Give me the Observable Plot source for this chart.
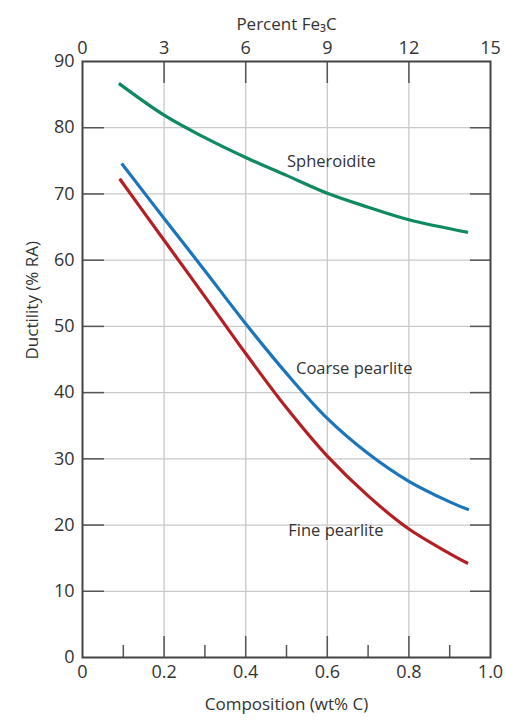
<!DOCTYPE html>
<html><head><meta charset="utf-8">
<script src="https://cdn.jsdelivr.net/npm/d3@7"></script>
<script src="https://cdn.jsdelivr.net/npm/@observablehq/plot@0.6"></script>
<style>html,body{margin:0;padding:0;background:#fff}svg{display:block}</style>
</head><body><div id="chart"></div>
<script>
// Series (composition wt% C -> ductility % RA)
const spheroiditeC  = [0.089, 0.2, 0.3, 0.4, 0.5, 0.6, 0.7, 0.8, 0.945];
const spheroiditeRA = [86.7, 81.9, 78.5, 75.5, 72.8, 70.1, 68.0, 66.1, 64.2];
const coarseC  = [0.096, 0.2, 0.3, 0.4, 0.5, 0.6, 0.7, 0.8, 0.9, 0.947];
const coarseRA = [74.6, 66.3, 58.4, 50.4, 42.9, 36.1, 30.8, 26.6, 23.5, 22.3];
const fineC  = [0.091, 0.2, 0.3, 0.4, 0.5, 0.6, 0.7, 0.8, 0.9, 0.945];
const fineRA = [72.3, 63.0, 54.5, 45.9, 37.7, 30.4, 24.4, 19.4, 15.7, 14.2];

const seriesNames  = ["Spheroidite", "Coarse pearlite", "Fine pearlite"];
const seriesColors = ["#0f8a5f", "#1b75bc", "#b41f24"];

// Axes
const compTicks   = [0, 0.2, 0.4, 0.6, 0.8, 1.0];
const compMinor   = [0.1, 0.3, 0.5, 0.7, 0.9];
const fe3cTicks   = [0, 3, 6, 9, 12, 15];
const raTicks     = [0, 10, 20, 30, 40, 50, 60, 70, 80, 90];
const fe3cPerC    = 15; // % Fe3C per wt% C

// Curve labels (annotation positions in data units)
const labelNames = ["Spheroidite", "Coarse pearlite", "Fine pearlite"];
const labelC     = [0.61, 0.666, 0.621];
const labelRA    = [74.9, 43.6, 19.2];

const xTitle   = "Composition (wt% C)";
const topTitle = "Percent Fe\u2083C";
const yTitle   = "Ductility (% RA)";

const rows = [
  ...spheroiditeC.map((c, i) => ({series: seriesNames[0], c, ra: spheroiditeRA[i]})),
  ...coarseC.map((c, i) => ({series: seriesNames[1], c, ra: coarseRA[i]})),
  ...fineC.map((c, i) => ({series: seriesNames[2], c, ra: fineRA[i]}))
];
const labels = labelNames.map((name, i) => ({name, c: labelC[i], ra: labelRA[i]}));
const innerComp = compTicks.filter(d => d > 0 && d < 1);
const innerRA = raTicks.filter(d => d > 0 && d < 90);
const fe3cPos = fe3cTicks.map(f => f / fe3cPerC);
const innerFe = fe3cPos.filter(d => d > 0 && d < 1);

const font = "'Open Sans', 'Liberation Sans', Arial, sans-serif";
const textCol = "#333";
const tickCol = "#555";
const gridCol = "#c9c9c9";

const chart = Plot.plot({
  width: 506,
  height: 720,
  marginLeft: 82, marginRight: 16, marginTop: 61, marginBottom: 63,
  style: {fontFamily: font, fontSize: "18px", color: textCol, background: "#fff"},
  x: {domain: [0, 1]},
  y: {domain: [0, 90]},
  color: {domain: seriesNames, range: seriesColors},
  marks: [
    Plot.gridX(innerComp, {stroke: gridCol, strokeOpacity: 1, strokeWidth: 1.3}),
    Plot.gridY(innerRA, {stroke: gridCol, strokeOpacity: 1, strokeWidth: 1.3}),
    // inward ticks
    Plot.axisX({anchor: "bottom", ticks: innerComp, tickSize: 21, dy: -21, fill: "none", label: null, stroke: tickCol, strokeWidth: 1.5}),
    Plot.axisX({anchor: "bottom", ticks: compMinor, tickSize: 12, dy: -12, fill: "none", label: null, stroke: tickCol, strokeWidth: 1.5}),
    Plot.axisX({anchor: "top", ticks: innerFe, tickSize: 21, dy: 21, fill: "none", label: null, stroke: tickCol, strokeWidth: 1.5}),
    Plot.axisY({anchor: "left", ticks: innerRA, tickSize: 22, dx: 22, fill: "none", label: null, stroke: tickCol, strokeWidth: 1.5}),
    Plot.axisY({anchor: "right", ticks: innerRA, tickSize: 21, dx: -21, fill: "none", label: null, stroke: tickCol, strokeWidth: 1.5}),
    // tick labels
    Plot.axisX({anchor: "bottom", ticks: compTicks, tickSize: 0, tickPadding: 8, label: null,
      tickFormat: d => d === 0 ? "0" : d.toFixed(1), fill: textCol, fontSize: 18}),
    Plot.axisX({anchor: "top", ticks: fe3cPos, tickSize: 0, tickPadding: 8, label: null,
      tickFormat: d => String(Math.round(d * fe3cPerC)), fill: textCol, fontSize: 18}),
    Plot.axisY({anchor: "left", ticks: raTicks, tickSize: 0, tickPadding: 8, label: null,
      fill: textCol, fontSize: 18}),
    // axis titles
    Plot.text([xTitle], {text: d => d, frameAnchor: "bottom", dy: 52, fill: textCol, fontSize: 17}),
    Plot.text([topTitle], {text: d => d, frameAnchor: "top", dy: -44, fill: textCol, fontSize: 17}),
    Plot.text([yTitle], {text: d => d, frameAnchor: "left", dx: -50, rotate: -90, fill: textCol, fontSize: 17}),
    // curves
    Plot.line(rows, {x: "c", y: "ra", z: "series", stroke: "series", curve: "catmull-rom", strokeWidth: 3.2, strokeLinecap: "butt"}),
    Plot.text(labels, {x: "c", y: "ra", text: "name", fill: textCol, fontSize: 16.5}),
    Plot.frame({stroke: "#444", strokeWidth: 2})
  ]
});
document.getElementById("chart").appendChild(chart);
</script>
</body></html>
